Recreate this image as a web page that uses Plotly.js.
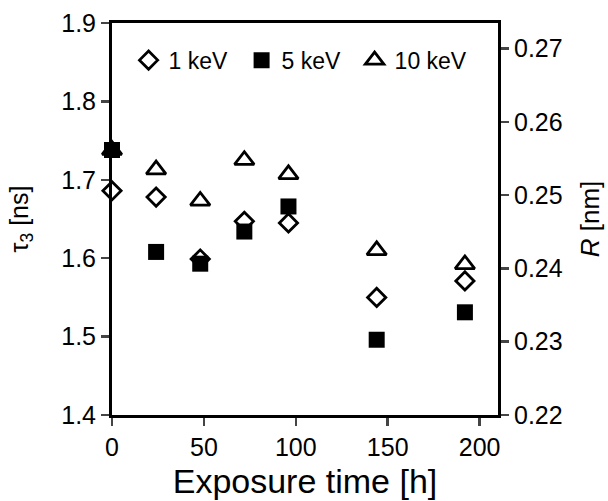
<!DOCTYPE html>
<html>
<head>
<meta charset="utf-8">
<script src="https://cdn.plot.ly/plotly-3.0.1.min.js"></script>
<style>html,body{margin:0;padding:0;background:#fff;}#chart{width:608px;height:501px;}</style>
</head>
<body>
<div id="chart"></div>
<script>
const hours = [0, 24, 48, 72, 96, 144, 192];
const tau1keV = [1.686, 1.678, 1.599, 1.647, 1.645, 1.550, 1.571];
const tau5keV = [1.738, 1.608, 1.593, 1.634, 1.666, 1.496, 1.531];
const tau10keV = [1.738, 1.713, 1.673, 1.725, 1.707, 1.610, 1.592];
const seriesNames = ['1 keV', '5 keV', '10 keV'];
const xTicks = [0, 50, 100, 150, 200];
const yTicks = [1.4, 1.5, 1.6, 1.7, 1.8, 1.9];
const rTicks = [0.22, 0.23, 0.24, 0.25, 0.26, 0.27];

const FONT = '"Liberation Sans", Arial, sans-serif';
const lw = 2.8;

const traces = [
  {x: hours, y: tau1keV, name: seriesNames[0], type: 'scatter', mode: 'markers', legendrank: 1,
   marker: {symbol: 'diamond-open', size: 14, color: '#000', line: {width: lw, color: '#000'}}, cliponaxis: false},
  {x: hours, y: tau10keV, name: seriesNames[2], type: 'scatter', mode: 'markers', legendrank: 3,
   marker: {symbol: 'triangle-up', size: 17, color: '#fff', line: {width: lw, color: '#000'}}, cliponaxis: false},
  {x: hours, y: tau5keV, name: seriesNames[1], type: 'scatter', mode: 'markers', legendrank: 2,
   marker: {symbol: 'square', size: 16, color: '#000', line: {width: 0}}, cliponaxis: false},
  {x: [], y: [], yaxis: 'y2', showlegend: false, hoverinfo: 'skip', type: 'scatter', mode: 'markers'}
];

const layout = {
  width: 608, height: 501,
  margin: {l: 112, r: 110, t: 23, b: 86},
  paper_bgcolor: '#fff', plot_bgcolor: '#fff',
  font: {family: FONT, color: '#000', size: 23},
  showlegend: true,
  legend: {orientation: 'h', x: 0.043, xanchor: 'left', y: 0.96, yanchor: 'top',
           font: {size: 23, family: FONT, color: '#000'}, bgcolor: 'rgba(0,0,0,0)',
           entrywidth: 68, traceorder: 'normal'},
  xaxis: {range: [0, 210], tickvals: xTicks, ticks: 'outside', ticklen: 8, tickwidth: 2.5,
          showline: true, linewidth: 3, linecolor: '#000', mirror: true, showgrid: false, zeroline: false,
          tickfont: {size: 25}, title: {text: 'Exposure time [h]', font: {size: 34}, standoff: 10}},
  yaxis: {range: [1.4, 1.9], tickvals: yTicks, tickformat: '.1f', ticks: 'outside', ticklen: 8, tickwidth: 2.5,
          showline: true, linewidth: 3, linecolor: '#000', showgrid: false, zeroline: false,
          tickfont: {size: 25}, title: {text: 'τ<sub>3</sub> [ns]', font: {size: 25}, standoff: 26}},
  yaxis2: {range: [0.22, 0.2735], tickvals: rTicks, tickformat: '.2f', overlaying: 'y', side: 'right',
           ticks: 'outside', ticklen: 8, tickwidth: 2.5, showline: true, linewidth: 3, linecolor: '#000',
           showgrid: false, zeroline: false, tickfont: {size: 25},
           title: {text: '<i>R</i> [nm]', font: {size: 26}, standoff: 20}}
};

Plotly.newPlot('chart', traces, layout, {displayModeBar: false, staticPlot: true});
</script>
</body>
</html>
